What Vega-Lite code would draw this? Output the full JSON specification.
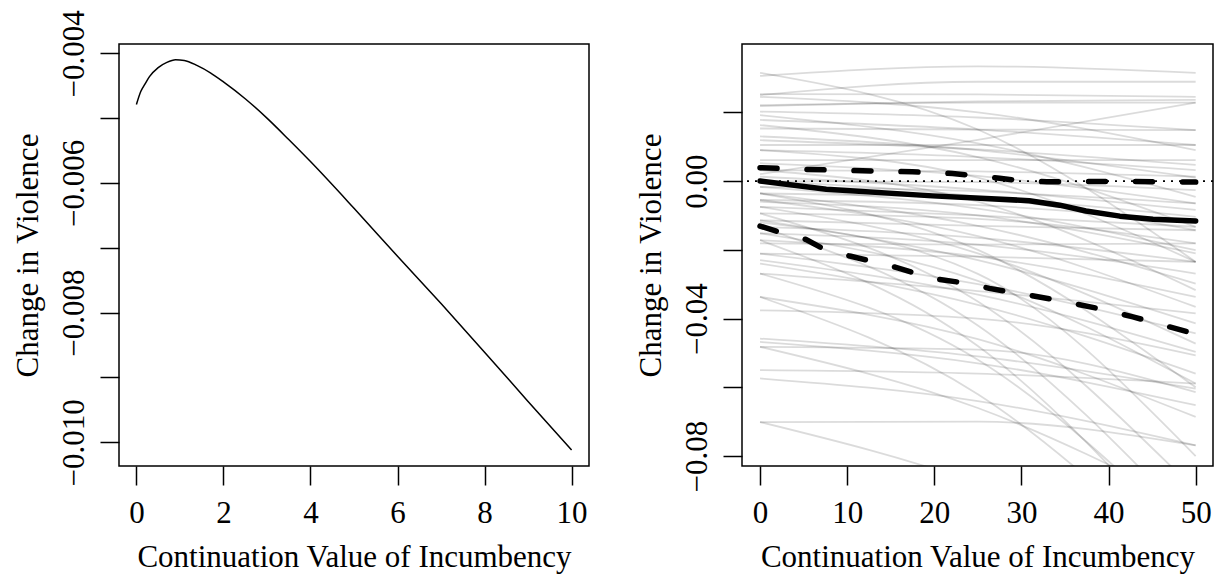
{
  "$schema": "https://vega.github.io/schema/vega-lite/v6.json",
  "background": "white",
  "padding": {"left": 11, "top": 8, "right": 5, "bottom": 5},
  "spacing": 44,
  "config": {
    "font": "Liberation Serif",
    "view": {"stroke": "black", "strokeWidth": 1.5},
    "axis": {
      "domain": false, "grid": false,
      "tickColor": "black", "tickWidth": 1.5, "tickSize": 19,
      "labelFont": "Liberation Serif", "labelFontSize": 31, "labelColor": "black",
      "titleFont": "Liberation Serif", "titleFontSize": 31, "titleFontWeight": "normal", "titleColor": "black",
      "labelOverlap": false, "labelFlush": false
    },
    "axisX": {"labelPadding": 37, "labelBaseline": "alphabetic", "titleY": 100.5, "titleBaseline": "alphabetic"},
    "axisY": {"labelAngle": 270, "labelAlign": "center", "labelBaseline": "alphabetic", "labelPadding": 17, "titleX": -82, "titleBaseline": "alphabetic", "titleAngle": 270}
  },
  "datasets": {
    "curve": [
      {"x": 0, "y": -0.00479}, {"x": 0.1, "y": -0.00459}, {"x": 0.2, "y": -0.00447}, {"x": 0.3, "y": -0.00436},
      {"x": 0.5, "y": -0.00422}, {"x": 0.7, "y": -0.00414}, {"x": 0.9, "y": -0.0041}, {"x": 1.1, "y": -0.00411},
      {"x": 1.4, "y": -0.00419}, {"x": 1.7, "y": -0.0043}, {"x": 2.0, "y": -0.00444}, {"x": 2.5, "y": -0.0047},
      {"x": 3.0, "y": -0.005}, {"x": 3.5, "y": -0.00533}, {"x": 4.0, "y": -0.00567}, {"x": 5.0, "y": -0.00639},
      {"x": 6.0, "y": -0.00713}, {"x": 7.0, "y": -0.00786}, {"x": 8.0, "y": -0.00861}, {"x": 9.0, "y": -0.00937},
      {"x": 10.0, "y": -0.01012}
    ],
    "median": [
      {"x": 0, "y": 0}, {"x": 7.6, "y": -0.0024}, {"x": 19.8, "y": -0.0043}, {"x": 30.9, "y": -0.0057},
      {"x": 34.4, "y": -0.007}, {"x": 37.4, "y": -0.0087}, {"x": 41.3, "y": -0.0102}, {"x": 45.1, "y": -0.0111},
      {"x": 50, "y": -0.0116}
    ],
    "bounds": [
      {"b": "hi", "x": 0, "y": 0.0039}, {"b": "hi", "x": 5.3, "y": 0.0034}, {"b": "hi", "x": 13.3, "y": 0.0029},
      {"b": "hi", "x": 17.5, "y": 0.0027}, {"b": "hi", "x": 22.1, "y": 0.0022}, {"b": "hi", "x": 24, "y": 0.0017},
      {"b": "hi", "x": 27.5, "y": 0.0008}, {"b": "hi", "x": 29.8, "y": 0.0001}, {"b": "hi", "x": 32.9, "y": -0.0002},
      {"b": "hi", "x": 40.9, "y": -0.0001}, {"b": "hi", "x": 50, "y": -0.0003},
      {"b": "lo", "x": 0, "y": -0.0131}, {"b": "lo", "x": 2.2, "y": -0.0148}, {"b": "lo", "x": 5.3, "y": -0.017},
      {"b": "lo", "x": 7.2, "y": -0.0196}, {"b": "lo", "x": 10.3, "y": -0.0218}, {"b": "lo", "x": 12.6, "y": -0.0232},
      {"b": "lo", "x": 15.6, "y": -0.0251}, {"b": "lo", "x": 19.8, "y": -0.0283}, {"b": "lo", "x": 24.4, "y": -0.03},
      {"b": "lo", "x": 26.3, "y": -0.0312}, {"b": "lo", "x": 33.6, "y": -0.0344}, {"b": "lo", "x": 39.3, "y": -0.0373},
      {"b": "lo", "x": 42.8, "y": -0.0395}, {"b": "lo", "x": 50, "y": -0.0445}
    ],
    "zero": [{"y": 0}],
    "sims": [
      {"g": 1, "x": 0, "y": 0.0306}, {"g": 1, "x": 25, "y": 0.0334}, {"g": 1, "x": 50, "y": 0.0315},
      {"g": 2, "x": 0, "y": 0.0315}, {"g": 2, "x": 25, "y": 0.015}, {"g": 2, "x": 50, "y": -0.0235},
      {"g": 3, "x": 0, "y": 0.025}, {"g": 3, "x": 25, "y": 0.0289}, {"g": 3, "x": 50, "y": 0.0289},
      {"g": 4, "x": 0, "y": 0.0253}, {"g": 4, "x": 25, "y": 0.0252}, {"g": 4, "x": 50, "y": 0.0245},
      {"g": 5, "x": 0, "y": 0.0221}, {"g": 5, "x": 25, "y": 0.0232}, {"g": 5, "x": 50, "y": 0.0236},
      {"g": 6, "x": 0, "y": 0.0218}, {"g": 6, "x": 25, "y": 0.0228}, {"g": 6, "x": 50, "y": 0.0228},
      {"g": 7, "x": 0, "y": 0.0202}, {"g": 7, "x": 25, "y": 0.0185}, {"g": 7, "x": 50, "y": 0.0148},
      {"g": 8, "x": 0, "y": 0.0192}, {"g": 8, "x": 25, "y": 0.011}, {"g": 8, "x": 50, "y": -0.0046},
      {"g": 9, "x": 0, "y": 0.0178}, {"g": 9, "x": 25, "y": 0.015}, {"g": 9, "x": 50, "y": 0.0105},
      {"g": 10, "x": 0, "y": 0.0163}, {"g": 10, "x": 25, "y": 0.007}, {"g": 10, "x": 50, "y": -0.0133},
      {"g": 11, "x": 0, "y": 0.0153}, {"g": 11, "x": 25, "y": 0.015}, {"g": 11, "x": 50, "y": 0.0148},
      {"g": 12, "x": 0, "y": 0.0119}, {"g": 12, "x": 25, "y": 0.0092}, {"g": 12, "x": 50, "y": 0.0047},
      {"g": 13, "x": 0, "y": 0.0105}, {"g": 13, "x": 25, "y": 0.0105}, {"g": 13, "x": 50, "y": 0.0105},
      {"g": 14, "x": 0, "y": 0.009}, {"g": 14, "x": 25, "y": 0.007}, {"g": 14, "x": 50, "y": 0.0032},
      {"g": 15, "x": 0, "y": 0.0061}, {"g": 15, "x": 25, "y": 0.0061}, {"g": 15, "x": 50, "y": 0.0061},
      {"g": 16, "x": 0, "y": 0.0052}, {"g": 16, "x": 25, "y": 0.0015}, {"g": 16, "x": 50, "y": -0.0065},
      {"g": 17, "x": 0, "y": 0.0032}, {"g": 17, "x": 25, "y": 0.0028}, {"g": 17, "x": 50, "y": 0.0013},
      {"g": 18, "x": 0, "y": 0.002}, {"g": 18, "x": 25, "y": 0.012}, {"g": 18, "x": 50, "y": 0.0228},
      {"g": 19, "x": 0, "y": 0.0013}, {"g": 19, "x": 25, "y": -0.0025}, {"g": 19, "x": 50, "y": -0.0084},
      {"g": 20, "x": 0, "y": 0.0}, {"g": 20, "x": 25, "y": -0.0045}, {"g": 20, "x": 50, "y": -0.0143},
      {"g": 21, "x": 0, "y": 0.0}, {"g": 21, "x": 25, "y": -0.0003}, {"g": 21, "x": 50, "y": -0.0026},
      {"g": 22, "x": 0, "y": -0.0017}, {"g": 22, "x": 25, "y": -0.008}, {"g": 22, "x": 50, "y": -0.0201},
      {"g": 23, "x": 0, "y": -0.0017}, {"g": 23, "x": 25, "y": -0.003}, {"g": 23, "x": 50, "y": -0.0065},
      {"g": 24, "x": 0, "y": -0.0036}, {"g": 24, "x": 25, "y": -0.005}, {"g": 24, "x": 50, "y": -0.0104},
      {"g": 25, "x": 0, "y": -0.0036}, {"g": 25, "x": 25, "y": -0.013}, {"g": 25, "x": 50, "y": -0.0298},
      {"g": 26, "x": 0, "y": -0.0055}, {"g": 26, "x": 25, "y": -0.007}, {"g": 26, "x": 50, "y": -0.0118},
      {"g": 27, "x": 0, "y": -0.0055}, {"g": 27, "x": 25, "y": -0.016}, {"g": 27, "x": 50, "y": -0.0366},
      {"g": 28, "x": 0, "y": -0.0075}, {"g": 28, "x": 25, "y": -0.01}, {"g": 28, "x": 50, "y": -0.0133},
      {"g": 29, "x": 0, "y": -0.0075}, {"g": 29, "x": 25, "y": -0.021}, {"g": 29, "x": 50, "y": -0.0473},
      {"g": 30, "x": 0, "y": -0.0094}, {"g": 30, "x": 25, "y": -0.011}, {"g": 30, "x": 50, "y": -0.0181},
      {"g": 31, "x": 0, "y": -0.0094}, {"g": 31, "x": 25, "y": -0.035}, {"g": 31, "x": 50, "y": -0.09},
      {"g": 32, "x": 0, "y": -0.0114}, {"g": 32, "x": 25, "y": -0.013}, {"g": 32, "x": 50, "y": -0.0143},
      {"g": 33, "x": 0, "y": -0.0114}, {"g": 33, "x": 25, "y": -0.023}, {"g": 33, "x": 50, "y": -0.0414},
      {"g": 34, "x": 0, "y": -0.0133}, {"g": 34, "x": 25, "y": -0.0165}, {"g": 34, "x": 50, "y": -0.0235},
      {"g": 35, "x": 0, "y": -0.0133}, {"g": 35, "x": 25, "y": -0.042}, {"g": 35, "x": 50, "y": -0.1},
      {"g": 36, "x": 0, "y": -0.0152}, {"g": 36, "x": 25, "y": -0.0185}, {"g": 36, "x": 50, "y": -0.0269},
      {"g": 37, "x": 0, "y": -0.0152}, {"g": 37, "x": 25, "y": -0.029}, {"g": 37, "x": 50, "y": -0.0589},
      {"g": 38, "x": 0, "y": -0.0172}, {"g": 38, "x": 25, "y": -0.022}, {"g": 38, "x": 50, "y": -0.0337},
      {"g": 39, "x": 0, "y": -0.0172}, {"g": 39, "x": 25, "y": -0.048}, {"g": 39, "x": 50, "y": -0.11},
      {"g": 40, "x": 0, "y": -0.0181}, {"g": 40, "x": 25, "y": -0.0185}, {"g": 40, "x": 50, "y": -0.0181},
      {"g": 41, "x": 0, "y": -0.0211}, {"g": 41, "x": 25, "y": -0.03}, {"g": 41, "x": 50, "y": -0.0443},
      {"g": 42, "x": 0, "y": -0.0211}, {"g": 42, "x": 25, "y": -0.022}, {"g": 42, "x": 50, "y": -0.0235},
      {"g": 43, "x": 0, "y": -0.023}, {"g": 43, "x": 25, "y": -0.033}, {"g": 43, "x": 50, "y": -0.0497},
      {"g": 44, "x": 0, "y": -0.024}, {"g": 44, "x": 25, "y": -0.036}, {"g": 44, "x": 50, "y": -0.056},
      {"g": 45, "x": 0, "y": -0.0269}, {"g": 45, "x": 25, "y": -0.052}, {"g": 45, "x": 50, "y": -0.105},
      {"g": 46, "x": 0, "y": -0.0269}, {"g": 46, "x": 25, "y": -0.032}, {"g": 46, "x": 50, "y": -0.0385},
      {"g": 47, "x": 0, "y": -0.0337}, {"g": 47, "x": 25, "y": -0.046}, {"g": 47, "x": 50, "y": -0.0686},
      {"g": 48, "x": 0, "y": -0.0337}, {"g": 48, "x": 25, "y": -0.062}, {"g": 48, "x": 50, "y": -0.115},
      {"g": 49, "x": 0, "y": -0.0376}, {"g": 49, "x": 25, "y": -0.04}, {"g": 49, "x": 50, "y": -0.0507},
      {"g": 50, "x": 0, "y": -0.0458}, {"g": 50, "x": 25, "y": -0.051}, {"g": 50, "x": 50, "y": -0.0604},
      {"g": 51, "x": 0, "y": -0.0468}, {"g": 51, "x": 25, "y": -0.053}, {"g": 51, "x": 50, "y": -0.0652},
      {"g": 52, "x": 0, "y": -0.0482}, {"g": 52, "x": 25, "y": -0.066}, {"g": 52, "x": 50, "y": -0.095},
      {"g": 53, "x": 0, "y": -0.0482}, {"g": 53, "x": 25, "y": -0.049}, {"g": 53, "x": 50, "y": -0.0614},
      {"g": 54, "x": 0, "y": -0.055}, {"g": 54, "x": 25, "y": -0.056}, {"g": 54, "x": 50, "y": -0.0589},
      {"g": 55, "x": 0, "y": -0.0574}, {"g": 55, "x": 25, "y": -0.064}, {"g": 55, "x": 50, "y": -0.0769},
      {"g": 56, "x": 0, "y": -0.0701}, {"g": 56, "x": 25, "y": -0.07}, {"g": 56, "x": 50, "y": -0.0769},
      {"g": 57, "x": 0, "y": -0.0701}, {"g": 57, "x": 25, "y": -0.088}, {"g": 57, "x": 50, "y": -0.115},
      {"g": 58, "x": 0, "y": 0.0032}, {"g": 58, "x": 25, "y": -0.006}, {"g": 58, "x": 50, "y": -0.0317},
      {"g": 59, "x": 0, "y": 0.009}, {"g": 59, "x": 25, "y": 0.001}, {"g": 59, "x": 50, "y": -0.0235},
      {"g": 60, "x": 0, "y": -0.0036}, {"g": 60, "x": 25, "y": -0.02}, {"g": 60, "x": 50, "y": -0.06},
      {"g": 61, "x": 0, "y": 0.013}, {"g": 61, "x": 25, "y": 0.009}, {"g": 61, "x": 50, "y": 0.001},
      {"g": 62, "x": 0, "y": -0.006}, {"g": 62, "x": 25, "y": -0.01}, {"g": 62, "x": 50, "y": -0.021},
      {"g": 63, "x": 0, "y": 0.0245}, {"g": 63, "x": 25, "y": 0.02}, {"g": 63, "x": 50, "y": 0.009},
      {"g": 64, "x": 0, "y": -0.012}, {"g": 64, "x": 25, "y": -0.027}, {"g": 64, "x": 50, "y": -0.08}
    ]
  },
  "hconcat": [
    {
      "width": 470,
      "height": 422,
      "data": {"name": "curve"},
      "mark": {"type": "line", "color": "black", "strokeWidth": 1.5, "interpolate": "monotone"},
      "encoding": {
        "x": {
          "field": "x", "type": "quantitative",
          "scale": {"domain": [-0.4, 10.4], "nice": false, "zero": false},
          "axis": {"values": [0, 2, 4, 6, 8, 10], "title": "Continuation Value of Incumbency"}
        },
        "y": {
          "field": "y", "type": "quantitative",
          "scale": {"domain": [-0.010366, -0.003856], "nice": false, "zero": false},
          "axis": {
            "values": [-0.010, -0.009, -0.008, -0.007, -0.006, -0.005, -0.004],
            "labelExpr": "abs(round(datum.value*1000)) % 2 == 0 ? format(datum.value, '.3f') : ''",
            "title": "Change in Violence"
          }
        }
      }
    },
    {
      "width": 471,
      "height": 422,
      "layer": [
        {
          "data": {"name": "sims"},
          "mark": {"type": "line", "color": "black", "opacity": 0.14, "strokeWidth": 1.8, "interpolate": "monotone", "clip": true},
          "encoding": {
            "x": {
              "field": "x", "type": "quantitative",
              "scale": {"domain": [-2.07, 51.99], "nice": false, "zero": false},
              "axis": {"values": [0, 10, 20, 30, 40, 50], "title": "Continuation Value of Incumbency"}
            },
            "y": {
              "field": "y", "type": "quantitative",
              "scale": {"domain": [-0.08288, 0.03988], "nice": false, "zero": false},
              "axis": {
                "values": [-0.08, -0.06, -0.04, -0.02, 0, 0.02],
                "labelExpr": "round(datum.value*100) % 4 == 0 ? format(datum.value, '.2f') : ''",
                "title": "Change in Violence"
              }
            },
            "detail": {"field": "g", "type": "nominal"}
          }
        },
        {
          "data": {"name": "zero"},
          "mark": {"type": "rule", "color": "black", "strokeWidth": 1.8, "strokeDash": [2, 6]},
          "encoding": {"y": {"field": "y", "type": "quantitative"}}
        },
        {
          "data": {"name": "median"},
          "mark": {"type": "line", "color": "black", "strokeWidth": 5.5, "strokeCap": "round", "strokeJoin": "round"},
          "encoding": {
            "x": {"field": "x", "type": "quantitative"},
            "y": {"field": "y", "type": "quantitative"}
          }
        },
        {
          "data": {"name": "bounds"},
          "mark": {"type": "line", "color": "black", "strokeWidth": 5.5, "strokeCap": "round", "strokeDash": [17, 30]},
          "encoding": {
            "x": {"field": "x", "type": "quantitative"},
            "y": {"field": "y", "type": "quantitative"},
            "detail": {"field": "b", "type": "nominal"}
          }
        }
      ]
    }
  ]
}
